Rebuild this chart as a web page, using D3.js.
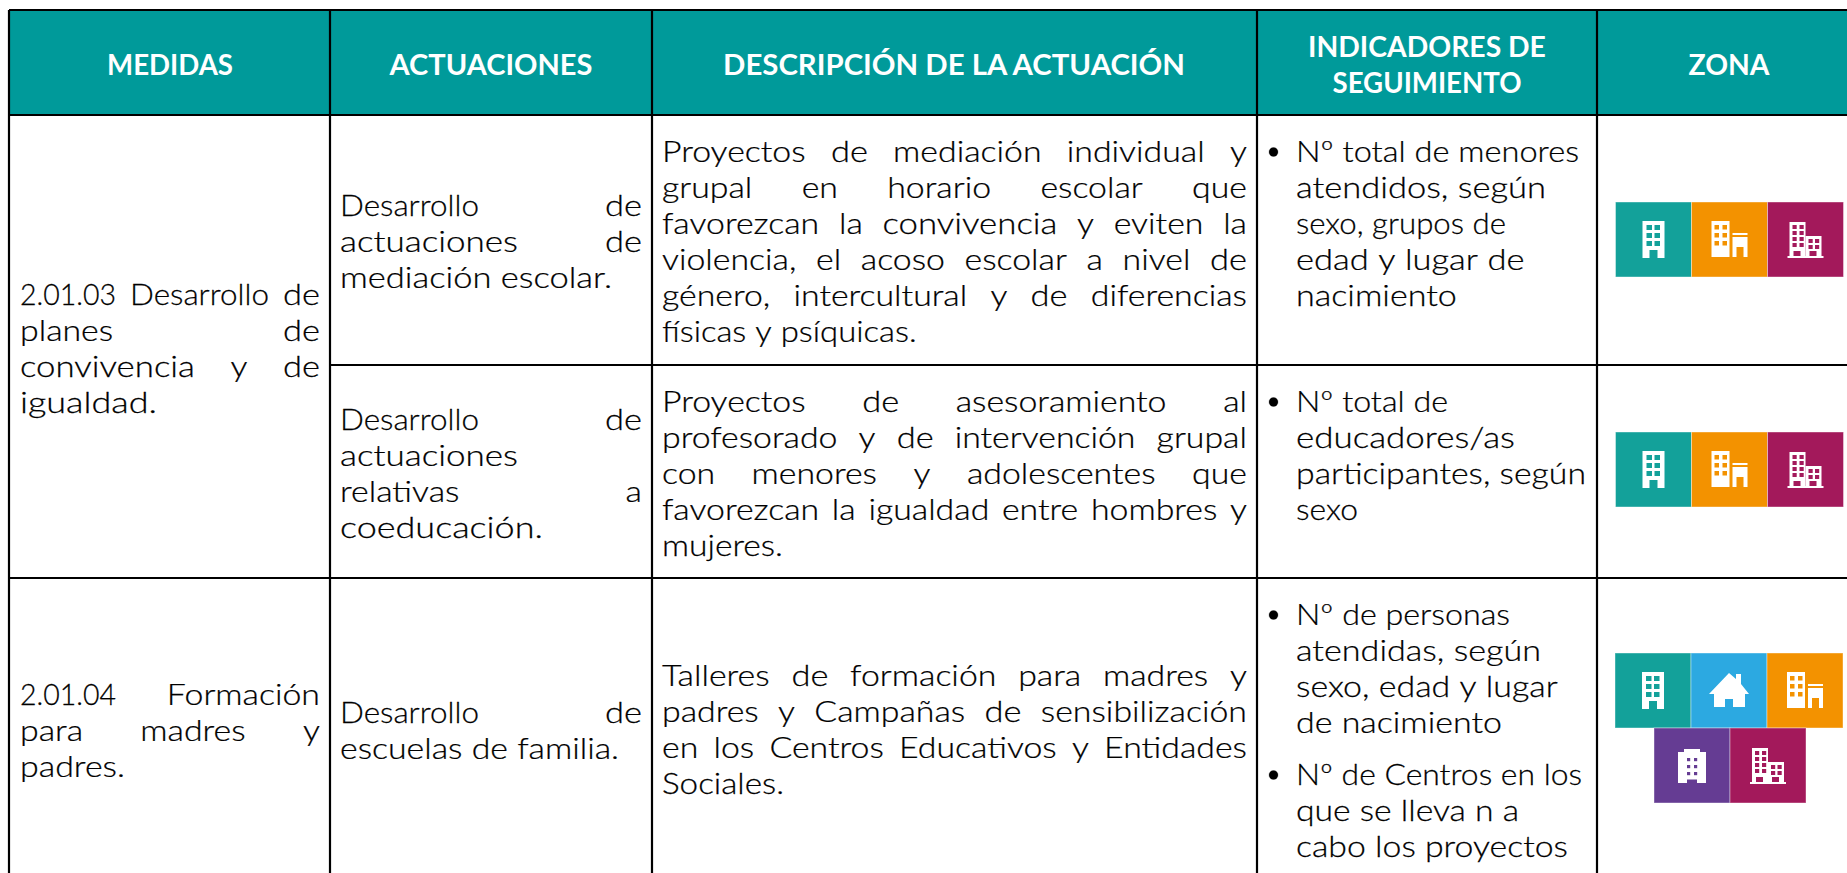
<!DOCTYPE html>
<html>
<head>
<meta charset="utf-8">
<script src="https://cdn.jsdelivr.net/npm/d3@7"></script>
<style>
  html, body { margin: 0; padding: 0; background: #fff; overflow: hidden; }
  text { font-family: Lato, "Open Sans", sans-serif; }
</style>
</head>
<body>
<div id="chart"></div>
<script>
(function() {
  var width = 1847,
      height = 873;

  // table content
  var headers = ["MEDIDAS", "ACTUACIONES", "DESCRIPCIÓN DE LA ACTUACIÓN", "INDICADORES DE|SEGUIMIENTO", "ZONA"];

  var medidas = [
    ["2.01.03 Desarrollo de", "planes de", "convivencia y de", "igualdad."],
    ["2.01.04 Formación", "para madres y", "padres."]
  ];

  var actuaciones = [
    ["Desarrollo de", "actuaciones de", "mediación escolar."],
    ["Desarrollo de", "actuaciones", "relativas a", "coeducación."],
    ["Desarrollo de", "escuelas de familia."]
  ];

  var descripciones = [
    ["Proyectos de mediación individual y", "grupal en horario escolar que", "favorezcan la convivencia y eviten la", "violencia, el acoso escolar a nivel de", "género, intercultural y de diferencias", "físicas y psíquicas."],
    ["Proyectos de asesoramiento al", "profesorado y de intervención grupal", "con menores y adolescentes que", "favorezcan la igualdad entre hombres y", "mujeres."],
    ["Talleres de formación para madres y", "padres y Campañas de sensibilización", "en los Centros Educativos y Entidades", "Sociales."]
  ];

  var indicadores = [
    [["Nº total de menores", "atendidos, según", "sexo, grupos de", "edad y lugar de", "nacimiento"]],
    [["Nº total de", "educadores/as", "participantes, según", "sexo"]],
    [["Nº de personas", "atendidas, según", "sexo, edad y lugar", "de nacimiento"], ["Nº de Centros en los", "que se lleva n a", "cabo los proyectos"]]
  ];

  var zonas = [
    [["torre", "mixta", "bloque"]],
    [["torre", "mixta", "bloque"]],
    [["torre", "casa", "mixta"], ["oficina", "bloque"]]
  ];

  var zonaColors = { torre: "#13a19a", casa: "#2ca9e1", mixta: "#f39200", oficina: "#653c93", bloque: "#a3195b" };

  // layout
  var columnEdges = [9, 330, 652, 1257, 1597];
  var headerCenters = [170, 491, 954, 1427, 1729];
  var rowEdges = [10, 115, 365, 578];
  var lineHeight = 36;
  var tileSize = 76;

  // widths measured on the original, Lato has other proportions than its face
  var fittedWidths = {
    "MEDIDAS": 126, "ACTUACIONES": 203, "DESCRIPCIÓN DE LA ACTUACIÓN": 462,
    "INDICADORES DE": 238, "SEGUIMIENTO": 189, "ZONA": 81,
    "mediación escolar.": 272, "escuelas de familia.": 279, "coeducación.": 203, "igualdad.": 137, "padres.": 105,
    "físicas y psíquicas.": 253, "mujeres.": 121, "Sociales.": 122,
    "Nº total de menores": 283, "atendidos, según": 250, "sexo, grupos de": 210, "edad y lugar de": 226, "nacimiento": 161,
    "Nº total de": 152, "educadores/as": 219, "participantes, según": 290, "sexo": 62,
    "Nº de personas": 214, "atendidas, según": 245, "sexo, edad y lugar": 260, "de nacimiento": 206,
    "Nº de Centros en los": 286, "que se lleva n a": 223, "cabo los proyectos": 272,
    "Desarrollo": 139, "actuaciones": 178, "convivencia": 175, "2.01.03": 96, "2.01.04": 96, "de": 37
  };

  var column = d3.scaleOrdinal().domain(headers).range(columnEdges);
  var headerX = d3.scaleOrdinal().domain(headers).range(headerCenters);

  var svg = d3.select("#chart")
    .append("svg")
    .attr("width", width)
    .attr("height", height)
    .style("display", "block");

  // header band
  svg.append("rect")
    .attr("x", columnEdges[0])
    .attr("y", rowEdges[0])
    .attr("width", width - columnEdges[0])
    .attr("height", rowEdges[1] - rowEdges[0])
    .attr("fill", "#009a9a");

  // grid lines
  var grid = svg.append("g").attr("stroke", "#000").attr("stroke-width", 2.2);

  grid.selectAll(".col")
    .data(headers)
    .enter()
    .append("line")
    .attr("class", "col")
    .attr("x1", function(d) { return column(d); })
    .attr("x2", function(d) { return column(d); })
    .attr("y1", rowEdges[0])
    .attr("y2", height);

  grid.selectAll(".row")
    .data([[9, rowEdges[0]], [9, rowEdges[1]], [330, rowEdges[2]], [9, rowEdges[3]]])
    .enter()
    .append("line")
    .attr("class", "row")
    .attr("x1", function(d) { return d[0]; })
    .attr("x2", width)
    .attr("y1", function(d) { return d[1]; })
    .attr("y2", function(d) { return d[1]; });

  function measure(str, size, weight) {
    var t = svg.append("text")
      .attr("font-size", size)
      .attr("font-weight", weight)
      .style("white-space", "pre")
      .text(str);
    var w = t.node().getComputedTextLength();
    t.remove();
    return w;
  }

  var bodySize = 29, bodyWeight = 300,
      headSize = 28.5, headWeight = 700;
  var bodyStretch = 279 / measure("escuelas de familia.", bodySize, bodyWeight);
  var spaceWidth = (measure("a a", bodySize, bodyWeight) - measure("aa", bodySize, bodyWeight));

  // header labels
  var headG = svg.append("g")
    .attr("fill", "#fff")
    .attr("font-size", headSize)
    .attr("font-weight", headWeight)
    .attr("text-anchor", "middle");

  headers.forEach(function(h) {
    var parts = h.split("|");
    parts.forEach(function(p, i) {
      var y = parts.length === 1 ? 75 : 57 + i * lineHeight;
      var sx = fittedWidths[p] / measure(p, headSize, headWeight);
      headG.append("text")
        .attr("transform", "translate(" + headerX(h) + "," + y + ") scale(" + sx + ",1)")
        .text(p);
    });
  });

  var body = svg.append("g")
    .attr("fill", "#000")
    .attr("stroke", "#000")
    .attr("stroke-width", 0.25)
    .attr("font-size", bodySize)
    .attr("font-weight", bodyWeight);

  // draws one line word by word so it can be justified between x0 and x1
  function drawLine(str, x0, x1, y, justify) {
    var words = str.split(" ");
    var natural = measure(str, bodySize, bodyWeight);
    var lineStretch = fittedWidths[str] ? fittedWidths[str] / natural : bodyStretch;
    var stretches = words.map(function(w) {
      if (!fittedWidths[str] && fittedWidths[w]) {
        return fittedWidths[w] / measure(w, bodySize, bodyWeight);
      }
      return lineStretch;
    });
    var widths = words.map(function(w, i) { return measure(w, bodySize, bodyWeight) * stretches[i]; });
    var gap = spaceWidth * lineStretch;
    if (justify && words.length > 1) {
      gap = (x1 - x0 - d3.sum(widths)) / (words.length - 1);
    }
    var x = x0;
    words.forEach(function(w, i) {
      body.append("text")
        .attr("transform", "translate(" + x + "," + y + ") scale(" + stretches[i] + ",1)")
        .text(w);
      x += widths[i] + gap;
    });
  }

  function drawBlock(lines, x0, x1, firstBaseline) {
    lines.forEach(function(l, i) {
      drawLine(l, x0, x1, firstBaseline + i * lineHeight, i < lines.length - 1);
    });
  }

  var medidaBaselines = [305, 705];
  medidas.forEach(function(lines, i) { drawBlock(lines, 20, 320, medidaBaselines[i]); });

  var actuacionBaselines = [216, 430, 723];
  actuaciones.forEach(function(lines, i) { drawBlock(lines, 340, 642, actuacionBaselines[i]); });

  var descripcionBaselines = [162, 412, 686];
  descripciones.forEach(function(lines, i) { drawBlock(lines, 662, 1247, descripcionBaselines[i]); });

  // bullets of the indicators column
  var indicadorBaselines = [[162], [412], [625, 785]];
  indicadores.forEach(function(items, i) {
    items.forEach(function(lines, j) {
      var y0 = indicadorBaselines[i][j];
      body.append("circle").attr("cx", 1273.5).attr("cy", y0 - 10).attr("r", 4.5).attr("fill", "#000");
      lines.forEach(function(l, k) {
        drawLine(l, 1296, 1590, y0 + k * lineHeight, false);
      });
    });
  });

  // icon glyphs, drawn in the tile's own units
  function win(g, color, xs, ys, w, h) {
    xs.forEach(function(x) {
      ys.forEach(function(y) {
        g.append("rect").attr("x", x).attr("y", y).attr("width", w).attr("height", h).attr("fill", color);
      });
    });
  }

  function box(g, x, y, w, h, fill) {
    g.append("rect").attr("x", x).attr("y", y).attr("width", w).attr("height", h).attr("fill", fill || "#fff");
  }

  var glyphs = {
    torre: function(g, c) {
      box(g, 27, 19, 22, 37);
      win(g, c, [31, 39], [23, 31, 39], 5.5, 5);
      box(g, 34, 48, 8, 8, c);
    },
    casa: function(g, c) {
      g.append("path").attr("fill", "#fff")
        .attr("d", "M38 20L45 26V21H50V31L58 41H54V54H23V41H18Z");
      box(g, 34, 46, 8, 8, c);
    },
    mixta: function(g, c) {
      box(g, 20, 19, 18, 36);
      win(g, c, [23, 31], [23, 31, 39], 4.5, 4.5);
      box(g, 41, 31, 15, 2);
      box(g, 41, 35, 15, 20);
      box(g, 45, 45, 7, 10, c);
    },
    oficina: function(g, c) {
      g.append("path").attr("fill", "#fff")
        .attr("d", "M24 24L30 24V21H46V24H52V55H24Z");
      win(g, c, [33, 40], [30, 37, 44], 3.2, 3.2);
      box(g, 33, 51.5, 10, 3.5, c);
    },
    bloque: function(g, c) {
      box(g, 22, 20, 16, 34);
      box(g, 38, 34, 16, 20);
      box(g, 20, 54, 36, 2);
      win(g, c, [25, 32], [23, 29, 35, 41], 4.2, 4);
      win(g, c, [41, 47.5], [37, 43], 4.2, 4);
      box(g, 26, 49, 7, 5, c);
      box(g, 42, 49, 7, 5, c);
    }
  };

  var zonaTop = [[202], [432], [653, 728]];
  var zonaLeft = [[1615.5], [1615.5], [1615, 1654]];

  zonas.forEach(function(rows, i) {
    rows.forEach(function(keys, j) {
      var x = d3.scaleBand().domain(d3.range(keys.length))
        .range([zonaLeft[i][j], zonaLeft[i][j] + keys.length * tileSize]);
      keys.forEach(function(k, n) {
        var g = svg.append("g").attr("transform", "translate(" + x(n) + "," + zonaTop[i][j] + ")");
        g.append("rect")
          .attr("width", tileSize)
          .attr("height", tileSize - 1)
          .attr("fill", zonaColors[k])
          .attr("stroke", "#fff")
          .attr("stroke-opacity", 0.4)
          .attr("stroke-width", 1);
        glyphs[k](g, zonaColors[k]);
      });
    });
  });
})();
</script>
</body>
</html>
